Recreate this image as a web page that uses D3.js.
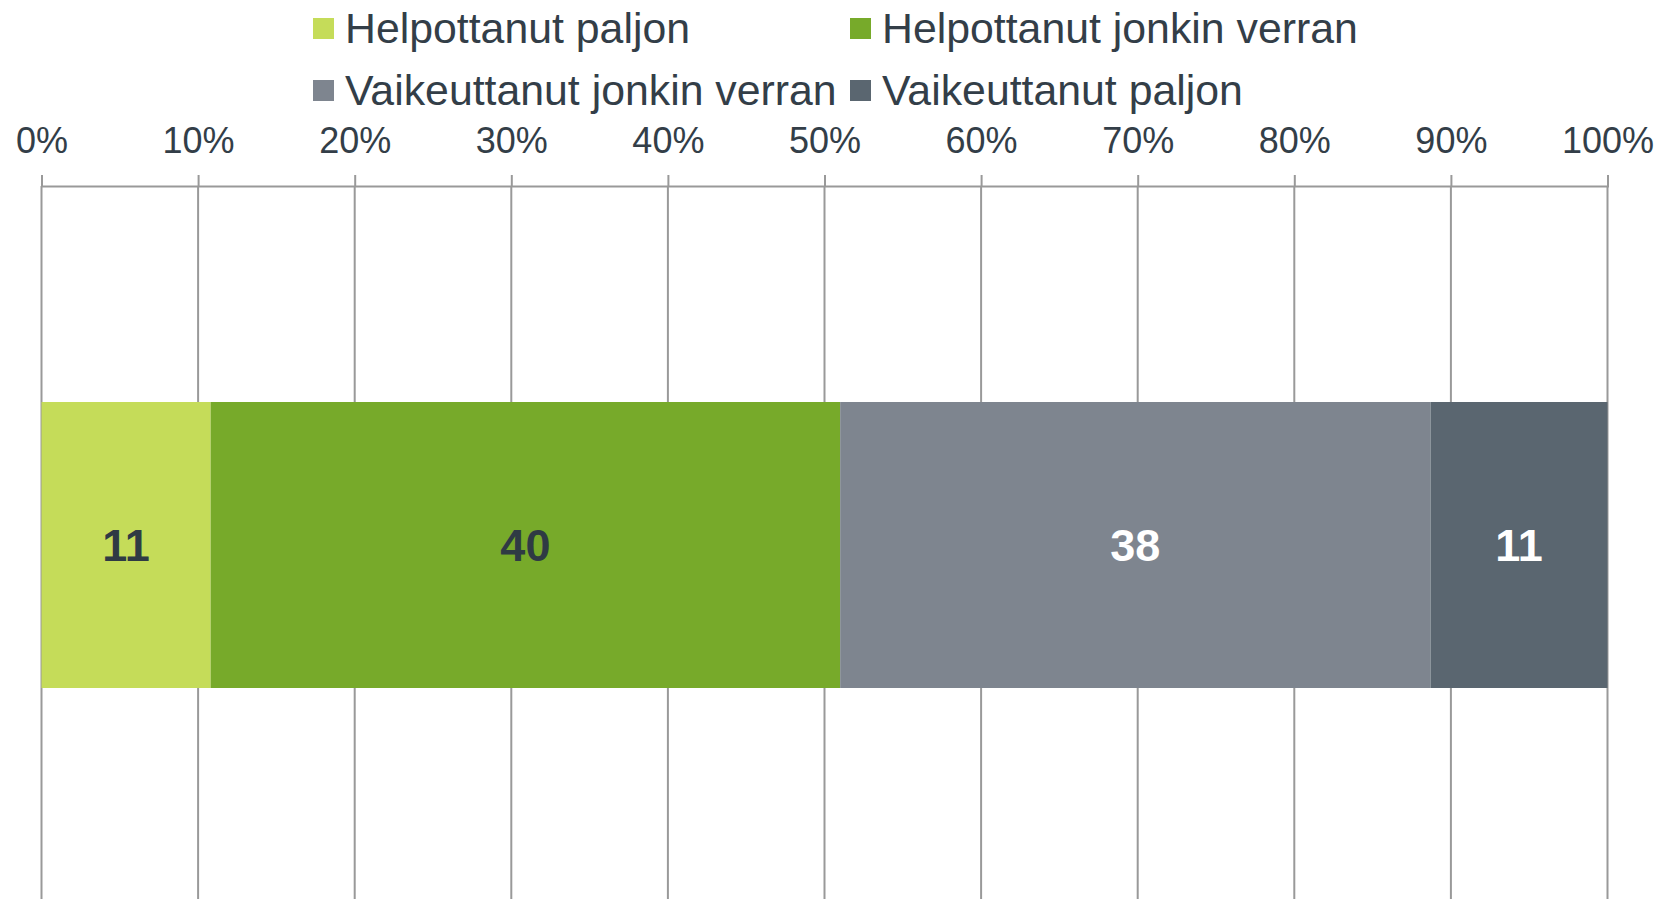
<script src="https://d3js.org/d3.v7.min.js"></script>
<style>
body {margin: 0; background: #fff;}
* {font-family: "Liberation Sans", Arial, sans-serif;}
</style>
<div id="chart"></div>
<script>
// data
var seriesNames = ["Helpottanut paljon", "Helpottanut jonkin verran", "Vaikeuttanut jonkin verran", "Vaikeuttanut paljon"];
var seriesValues = [10.8, 40.2, 37.7, 11.3];
var valueLabels = ["11", "40", "38", "11"];
var seriesColors = ["#C5DC59", "#77AA2A", "#7E858F", "#5A6670"];
var labelColors = ["#2F3A44", "#2F3A44", "#FFFFFF", "#FFFFFF"];
var categories = ["kaikki"];
var tickValues = [0, 10, 20, 30, 40, 50, 60, 70, 80, 90, 100];

var width = 1667;
var height = 899;
var axisY = 186;
var textColor = "#333E48";
var gridColor = "#999999";

var svg = d3.select("#chart").append("svg")
	.attr("width", width)
	.attr("height", height);

var x = d3.scaleLinear().domain([0, 100]).range([41.5, 1607.5]);
var y = d3.scaleBand().domain(categories).range([402, 688]).padding(0);

// gridlines
svg.append("g").selectAll("line")
	.data(tickValues)
	.enter().append("line")
	.attr("x1", function(d) { return x(d); })
	.attr("x2", function(d) { return x(d); })
	.attr("y1", axisY)
	.attr("y2", height)
	.attr("stroke", gridColor)
	.attr("stroke-width", 2);

// stacked segments
var stacked = [];
var acc = 0;
seriesValues.forEach(function(v, i) {
	stacked.push({start: acc, end: acc + v, i: i});
	acc += v;
});

var bar = svg.append("g");
bar.selectAll("rect")
	.data(stacked)
	.enter().append("rect")
	.attr("x", function(d) { return x(d.start); })
	.attr("width", function(d) { return x(d.end) - x(d.start); })
	.attr("y", y(categories[0]))
	.attr("height", y.bandwidth())
	.attr("fill", function(d) { return seriesColors[d.i]; });

bar.selectAll("text")
	.data(stacked)
	.enter().append("text")
	.attr("x", function(d) { return (x(d.start) + x(d.end)) / 2; })
	.attr("y", y(categories[0]) + y.bandwidth() / 2)
	.attr("dy", "0.36em")
	.attr("text-anchor", "middle")
	.attr("font-size", 45)
	.attr("font-weight", "bold")
	.attr("fill", function(d) { return labelColors[d.i]; })
	.text(function(d) { return valueLabels[d.i]; });

// axis on top
var axis = svg.append("g")
	.attr("transform", "translate(0," + axisY + ")")
	.call(d3.axisTop(x)
		.tickValues(tickValues)
		.tickFormat(function(d) { return d + "%"; })
		.tickSize(11)
		.tickPadding(22));
axis.select(".domain").attr("stroke", gridColor).attr("stroke-width", 2);
axis.selectAll(".tick line").attr("stroke", gridColor).attr("stroke-width", 2);
axis.selectAll(".tick text")
	.attr("fill", textColor)
	.attr("font-size", 36)
	.attr("font-family", "Liberation Sans, Arial, sans-serif");

// legend, two columns
var legendX = [313, 850];
var legendY = [28, 90];
var legend = svg.append("g").selectAll("g")
	.data(seriesNames)
	.enter().append("g")
	.attr("transform", function(d, i) {
		return "translate(" + legendX[i % 2] + "," + legendY[Math.floor(i / 2)] + ")";
	});
legend.append("rect")
	.attr("x", 0)
	.attr("y", -10)
	.attr("width", 21)
	.attr("height", 21)
	.attr("fill", function(d, i) { return seriesColors[i]; });
legend.append("text")
	.attr("x", 32)
	.attr("y", 0)
	.attr("dy", "0.36em")
	.attr("font-size", 42.8)
	.attr("fill", textColor)
	.text(function(d) { return d; });
</script>
